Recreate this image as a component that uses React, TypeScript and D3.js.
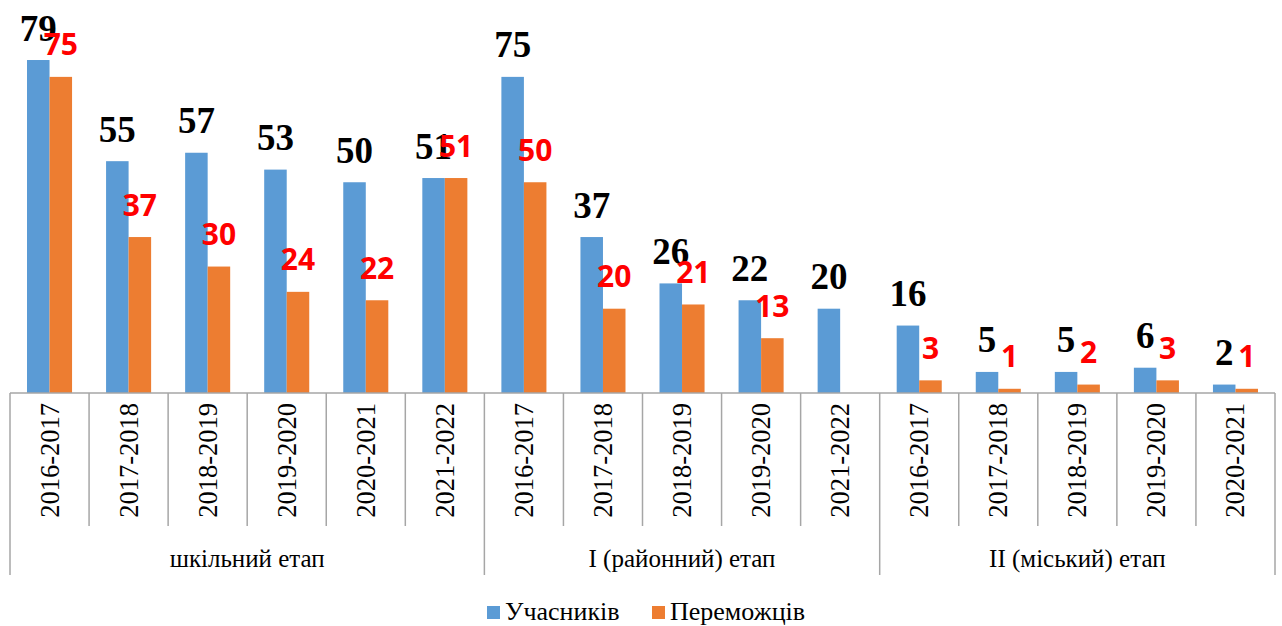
import React, { useEffect, useRef } from "react";
import * as d3 from "d3";

// years under each stage
const categories = [
  "2016-2017", "2017-2018", "2018-2019", "2019-2020", "2020-2021", "2021-2022",
  "2016-2017", "2017-2018", "2018-2019", "2019-2020", "2021-2022",
  "2016-2017", "2017-2018", "2018-2019", "2019-2020", "2020-2021",
];
const groups = ["шкільний етап", "I (районний) етап", "II (міський) етап"];
const groupSizes = [6, 5, 5];
const participants = [79, 55, 57, 53, 50, 51, 75, 37, 26, 22, 20, 16, 5, 5, 6, 2];
const winners: (number | null)[] = [75, 37, 30, 24, 22, 51, 50, 20, 21, 13, null, 3, 1, 2, 3, 1];
const seriesNames = ["Учасників", "Переможців"];
const colors = ["#5B9BD5", "#ED7D31"];

const width = 1282;
const height = 626;
const margin = { left: 10, right: 7, top: 56, baseline: 393 };
const serif = "'Liberation Serif', 'Times New Roman', serif";

const App = () => {
  const ref = useRef<SVGSVGElement>(null);

  useEffect(() => {
    const svg = d3.select(ref.current);
    svg.selectAll("*").remove();

    const idx = categories.map((_, i) => i);
    const x0 = d3.scaleBand<number>().domain(idx).range([margin.left, width - margin.right]);
    const x1 = d3.scaleBand<number>().domain([0, 1]).range([0, x0.bandwidth()]).paddingOuter(0.755);
    const y = d3.scaleLinear().domain([0, 80]).range([margin.baseline, margin.baseline - 80 * 4.215]);

    const series = [participants, winners];
    const g = svg.append("g");

    series.forEach((vals, s) => {
      g.selectAll(`rect.s${s}`)
        .data(idx.filter(i => vals[i] != null))
        .enter().append("rect")
        .attr("x", i => x0(i)! + x1(s)!)
        .attr("width", x1.bandwidth())
        .attr("y", i => y(vals[i]!))
        .attr("height", i => y(0) - y(vals[i]!))
        .attr("fill", colors[s]);
    });

    // axis lines
    const axis = svg.append("g").attr("stroke", "#a6a6a6").attr("stroke-width", 1.5);
    axis.append("line")
      .attr("x1", margin.left).attr("x2", width - margin.right)
      .attr("y1", y(0)).attr("y2", y(0));

    const groupEdges = [0];
    groupSizes.forEach(n => groupEdges.push(groupEdges[groupEdges.length - 1] + n));
    const edgeX = (i: number) => (i < categories.length ? x0(i)! : width - margin.right);

    for (let i = 0; i <= categories.length; i++) {
      const isGroup = groupEdges.includes(i);
      axis.append("line")
        .attr("x1", edgeX(i)).attr("x2", edgeX(i))
        .attr("y1", y(0)).attr("y2", isGroup ? 575 : 526);
    }

    // category labels
    g.selectAll("text.cat")
      .data(idx)
      .enter().append("text")
      .attr("transform", i => `translate(${x0(i)! + x0.bandwidth() / 2},${y(0) + 10}) rotate(-90)`)
      .attr("text-anchor", "end")
      .attr("dominant-baseline", "central")
      .attr("font-family", serif)
      .attr("font-size", 26.5)
      .attr("fill", "#000")
      .text(i => categories[i]);

    // group labels
    groups.forEach((name, k) => {
      const a = edgeX(groupEdges[k]);
      const b = edgeX(groupEdges[k + 1]);
      svg.append("text")
        .attr("x", (a + b) / 2).attr("y", 567)
        .attr("text-anchor", "middle")
        .attr("font-family", serif)
        .attr("font-size", 25)
        .text(name);
    });

    // data labels
    g.selectAll("text.v0")
      .data(idx)
      .enter().append("text")
      .attr("x", i => x0(i)! + x1(0)! + x1.bandwidth() / 2)
      .attr("y", i => y(participants[i]) - 32)
      .attr("text-anchor", "middle")
      .attr("dominant-baseline", "central")
      .attr("font-family", serif)
      .attr("font-weight", "bold")
      .attr("font-size", 37)
      .attr("fill", "#000")
      .text(i => participants[i]);

    g.selectAll("text.v1")
      .data(idx.filter(i => winners[i] != null))
      .enter().append("text")
      .attr("x", i => x0(i)! + x1(1)! + x1.bandwidth() / 2)
      .attr("y", i => y(winners[i]!) - 33)
      .attr("text-anchor", "middle")
      .attr("dominant-baseline", "central")
      .attr("font-family", "'Open Sans', Calibri, sans-serif")
      .attr("font-weight", "bold")
      .attr("font-size", 30)
      .attr("fill", "#ff0000")
      .text(i => winners[i]!);

    // legend
    const legend = svg.append("g");
    const lx = [487, 652];
    seriesNames.forEach((name, s) => {
      legend.append("rect")
        .attr("x", lx[s]).attr("y", 606)
        .attr("width", 13).attr("height", 13)
        .attr("fill", colors[s]);
      legend.append("text")
        .attr("x", lx[s] + 18).attr("y", 620)
        .attr("font-family", serif)
        .attr("font-size", 26)
        .text(name);
    });
  }, []);

  return (
    <svg
      ref={ref}
      width={width}
      height={height}
      style={{ position: "absolute", left: 0, top: 0, background: "#fff" }}
    />
  );
};

export default App;
